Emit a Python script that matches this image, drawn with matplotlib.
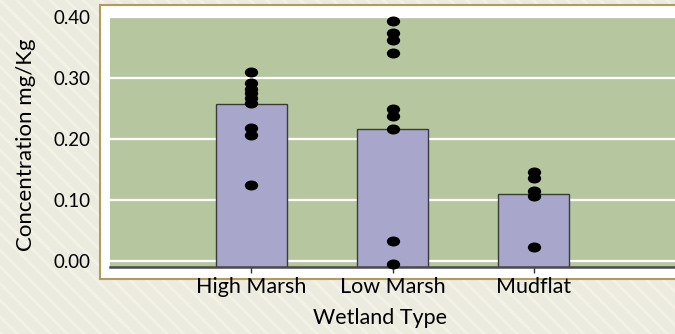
import matplotlib
matplotlib.use("Agg")
import matplotlib.pyplot as plt
import numpy as np
from matplotlib.patches import Rectangle
from matplotlib.path import Path
from matplotlib.markers import MarkerStyle

# ---- data ----
categories = ["High Marsh", "Low Marsh", "Mudflat"]
bar_values = [0.258, 0.217, 0.109]
high_marsh_pts = [0.310, 0.291, 0.282, 0.275, 0.267, 0.259, 0.218, 0.207, 0.125]
low_marsh_pts = [0.393, 0.373, 0.362, 0.341, 0.249, 0.238, 0.217, 0.032, -0.005]
mudflat_pts = [0.145, 0.136, 0.115, 0.106, 0.022]
y_ticks = [0.00, 0.10, 0.20, 0.30, 0.40]
y_tick_labels = ["0.00", "0.10", "0.20", "0.30", "0.40"]
x_label = "Wetland Type"
y_label = "Concentration mg/Kg"

plt.rcParams['font.family'] = ['Lato', 'DejaVu Sans']
plt.rcParams['hatch.linewidth'] = 2.0

W, H = 675, 334
fig = plt.figure(figsize=(W / 100, H / 100), dpi=100)
fig.patch.set_facecolor('#ecebdf')

# striped background
bg = Rectangle((0, 0), 1, 1, transform=fig.transFigure, facecolor='#ecebdf',
               edgecolor='#f4f2e7', hatch='\\\\', linewidth=0, zorder=-10)
fig.patches.append(bg)

# white panel with gold border
panel = Rectangle((100 / W, (H - 279) / H), 1.2, (279 - 5) / H, transform=fig.transFigure,
                  facecolor='white', edgecolor='#b39b5c', linewidth=1.5, zorder=-5)
fig.patches.append(panel)

ax = fig.add_axes([110 / W, (H - 267) / H, 1 - 110 / W, (267 - 17) / H])
ax.set_facecolor('#b6c7a0')

ymin, ymax = -0.01, 0.40
ax.set_ylim(ymin, ymax)
ax.set_xlim(-1, 3)

x = np.arange(len(categories))
ax.bar(x, np.array(bar_values) - ymin, bottom=ymin, width=0.5,
       color='#a8a7cb', edgecolor='#3a3a3a', linewidth=1.0, zorder=3)

# elliptical marker
circ = Path.unit_circle()
ell = Path(circ.vertices * np.array([1.0, 0.72]), circ.codes)
mk = MarkerStyle(ell)

for i, pts in enumerate([high_marsh_pts, low_marsh_pts, mudflat_pts]):
    ax.plot([x[i]] * len(pts), pts, linestyle='none', marker=mk, markersize=8.6,
            color='black', zorder=5, clip_on=False)

ax.set_yticks(y_ticks)
ax.set_yticklabels(y_tick_labels)
ax.set_xticks(x)
ax.set_xticklabels(categories)

ax.yaxis.grid(True, color='white', linewidth=1.6, zorder=1)
ax.set_axisbelow(True)
for s in ['top', 'right', 'left']:
    ax.spines[s].set_visible(False)
ax.spines['bottom'].set_color('#4a4a4a')
ax.spines['bottom'].set_linewidth(1.8)
ax.spines['bottom'].set_zorder(4)

ax.tick_params(axis='y', length=0, pad=13.7, labelsize=13.5, labelcolor='black')
ax.tick_params(axis='x', length=4, width=1, color='#333333', pad=3, labelsize=15.5, labelcolor='black')

fig.text(380 / W, (H - 318) / H, x_label, ha='center', va='center', fontsize=15.5)
fig.text(26 / W, (H - 145) / H, y_label, ha='center', va='center', rotation=90, fontsize=16)

fig.savefig('out.png', dpi=100, facecolor=fig.get_facecolor())
